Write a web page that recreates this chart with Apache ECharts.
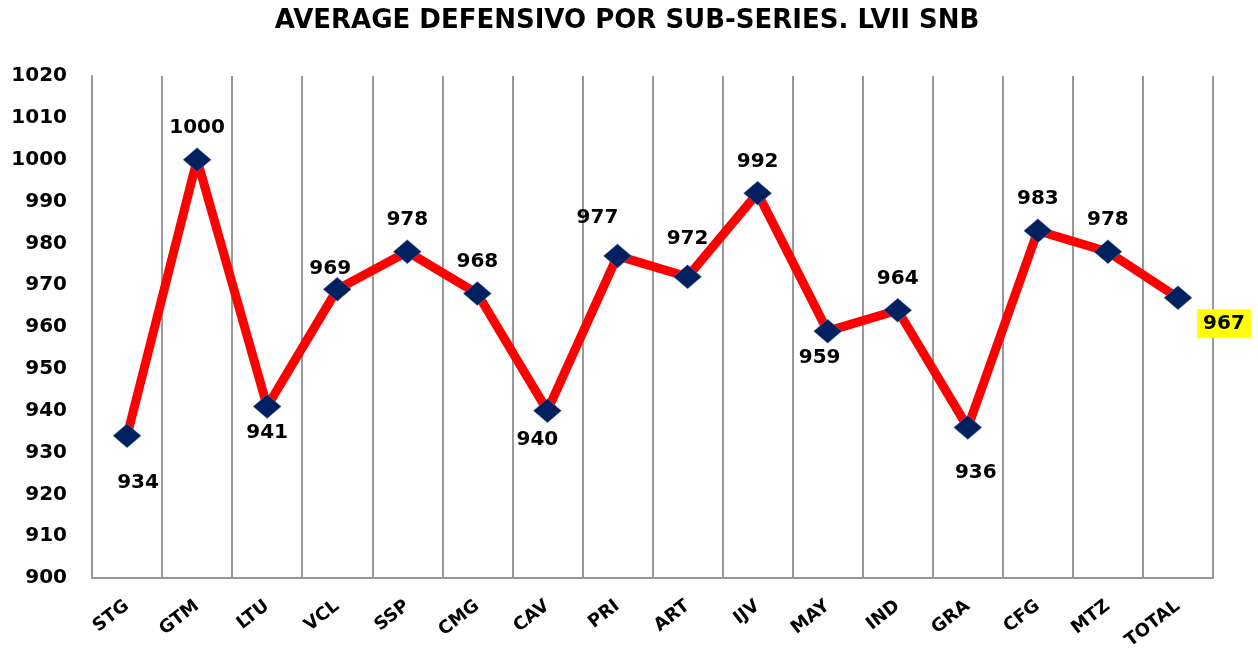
<!DOCTYPE html>
<html>
<head>
<meta charset="utf-8">
<script src="https://cdn.jsdelivr.net/npm/echarts@6/dist/echarts.min.js"></script>
<style>html,body{margin:0;padding:0;background:#fff}#c{width:1258px;height:658px}</style>
</head>
<body>
<div id="c"></div>
<script>
const categories = ['STG','GTM','LTU','VCL','SSP','CMG','CAV','PRI','ART','IJV','MAY','IND','GRA','CFG','MTZ','TOTAL'];
const values = [934,1000,941,969,978,968,940,977,972,992,959,964,936,983,978,967];
const yTicks = {min: 900, max: 1020, interval: 10};

// label placement (style only): offset of each value label from its point
const labelOffsets = [[11,47],[0,-32],[0,26],[-7,-21],[0,-32],[0,-32],[-10,29],[-20,-38],[0,-38],[0,-31],[-8,27],[0,-31],[8,45],[0,-32],[0,-32],[46,26]];

const FONT = '"DejaVu Sans", sans-serif';
const data = values.map((v, i) => {
  const item = {value: v, label: {offset: labelOffsets[i]}};
  if (i === values.length - 1) {
    item.label.backgroundColor = '#ffff00';
    item.label.padding = [5, 6, 4, 6];
  }
  return item;
});

const chart = echarts.init(document.getElementById('c'));
chart.setOption({
  animation: false,
  backgroundColor: '#fff',
  title: {
    text: 'AVERAGE DEFENSIVO POR SUB-SERIES. LVII SNB',
    left: 622, textAlign: 'center', top: 3,
    textStyle: {fontFamily: FONT, fontWeight: 'bold', fontSize: 26, color: '#000'}
  },
  grid: {left: 92, right: 45, top: 76, bottom: 80, containLabel: false},
  xAxis: {
    type: 'category',
    data: categories,
    boundaryGap: true,
    axisLine: {lineStyle: {color: '#999', width: 2}},
    axisTick: {show: false},
    splitLine: {show: true, interval: 0, lineStyle: {color: '#999', width: 2}},
    axisLabel: {interval: 0, rotate: 38, margin: 26, fontFamily: FONT, fontWeight: 'bold', fontSize: 18, color: '#000'}
  },
  yAxis: {
    type: 'value',
    min: yTicks.min, max: yTicks.max, interval: yTicks.interval,
    axisLine: {show: true, lineStyle: {color: '#999', width: 2}},
    axisTick: {show: false},
    splitLine: {show: false},
    axisLabel: {margin: 25, fontFamily: FONT, fontWeight: 'bold', fontSize: 20, color: '#000', formatter: v => String(v)}
  },
  series: [{
    type: 'line',
    data: data,
    lineStyle: {color: '#ff0000', width: 9},
    itemStyle: {color: '#002060', borderColor: '#6f86b8', borderWidth: 0.5},
    symbol: 'diamond',
    symbolSize: [28, 24],
    z: 3,
    label: {show: true, position: 'inside', fontFamily: FONT, fontWeight: 'bold', fontSize: 20, color: '#000'}
  }]
});
</script>
</body>
</html>
